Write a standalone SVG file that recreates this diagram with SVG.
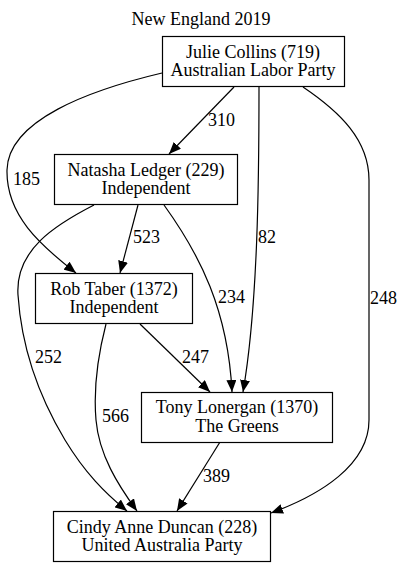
<svg xmlns="http://www.w3.org/2000/svg" width="403" height="567" viewBox="0 0 403 567" font-family="'Liberation Serif', 'Times New Roman', serif" font-size="18">
<style>
  text { font-family: "Liberation Serif", "Times New Roman", serif; font-size: 18px; fill: #000; }
  .c { text-anchor: middle; }
  .node rect { fill: #fff; stroke: #000; stroke-width: 1.2; }
  .edge { fill: none; stroke: #000; stroke-width: 1.2; marker-end: url(#arr); }
</style>
<defs>
  <marker id="arr" markerUnits="userSpaceOnUse" markerWidth="12" markerHeight="10" viewBox="0 0 12 10" refX="12" refY="5" orient="auto">
    <path d="M0,0 L12,5 L0,10 z" fill="#000"/>
  </marker>
</defs>
<rect width="403" height="567" fill="#fff"/>
<text class="c" x="201" y="25">New England 2019</text>

<g id="connectors">
  <path class="edge" d="M234,87 L169,154"/>
  <path class="edge" d="M162,73 C90,90 8,120 7,170 C6,215 40,245 76,273"/>
  <path class="edge" d="M259,87 C259,180 258,305 243,392"/>
  <path class="edge" d="M303,87 C340,112 369,140 369,180 L369,420 C369,465 320,495 271,513"/>
  <path class="edge" d="M138,205 L120,273"/>
  <path class="edge" d="M164,205 C200,255 228,310 232,392"/>
  <path class="edge" d="M94,205 C55,225 15,250 18,295 C21,340 35,390 65,440 C85,473 105,493 127,511"/>
  <path class="edge" d="M140,324 L210,392"/>
  <path class="edge" d="M106,324 C98,355 93,385 96,420 C99,455 118,485 137,511"/>
  <path class="edge" d="M220,442 L177,511"/>
  <text x="208" y="126">310</text>
  <text x="13" y="185">185</text>
  <text x="258" y="243">82</text>
  <text x="370" y="304">248</text>
  <text x="133" y="243">523</text>
  <text x="218" y="303">234</text>
  <text x="35" y="363">252</text>
  <text x="182" y="363">247</text>
  <text x="102" y="422">566</text>
  <text x="203" y="482">389</text>
</g>

<g id="julie" class="node">
  <rect x="162.5" y="36.5" width="182" height="50"/>
  <text class="c" x="253" y="57.5">Julie Collins (719)</text>
  <text class="c" x="253" y="76">Australian Labor Party</text>
</g>
<g id="natasha" class="node">
  <rect x="54.5" y="154.5" width="183" height="50"/>
  <text class="c" x="146" y="175.5">Natasha Ledger (229)</text>
  <text class="c" x="146" y="194">Independent</text>
</g>
<g id="rob" class="node">
  <rect x="35.5" y="273.5" width="157" height="50"/>
  <text class="c" x="114" y="294.5">Rob Taber (1372)</text>
  <text class="c" x="114" y="313">Independent</text>
</g>
<g id="tony" class="node">
  <rect x="141.5" y="392.5" width="191" height="50"/>
  <text class="c" x="237" y="413">Tony Lonergan (1370)</text>
  <text class="c" x="237" y="431.5">The Greens</text>
</g>
<g id="cindy" class="node">
  <rect x="53.5" y="511.5" width="217" height="50"/>
  <text class="c" x="162" y="532.5">Cindy Anne Duncan (228)</text>
  <text class="c" x="162" y="551">United Australia Party</text>
</g>
</svg>
